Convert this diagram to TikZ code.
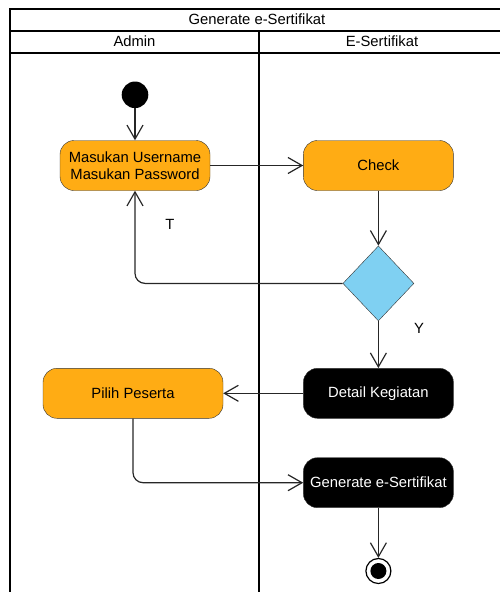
\documentclass[tikz,border=0pt]{standalone}
\usepackage{fontspec}
\setmainfont{Liberation Sans}
\usetikzlibrary{positioning,shapes.geometric,arrows.meta}

\definecolor{orangeact}{RGB}{255,172,20}
\definecolor{bluedec}{RGB}{127,208,242}

\begin{document}
\begin{tikzpicture}[
    x=1pt, y=-1pt,
    font=\fontsize{14.8}{17}\selectfont,
    action/.style={rectangle, rounded corners=14pt, draw=black!80, fill=orangeact, minimum width=150pt, minimum height=50pt, align=center}, % Aktivitas
    blackact/.style={action, fill=black, text=white}, % Aktivitas sistem
    decision/.style={diamond, draw=black!80, fill=bluedec, minimum width=71pt, minimum height=75pt, inner sep=0pt}, % Keputusan
    startdot/.style={circle, fill=black, minimum size=26.6pt, inner sep=0pt},
    enddot/.style={circle, draw=black, line width=1.2pt, fill=white, minimum size=25pt, inner sep=0pt,
        path picture={\fill[black] (path picture bounding box.center) circle (8pt);}},
    arrow/.style={-{Straight Barb[length=14pt,width=16pt]}, draw=black!85, line width=1.2pt}, % Panah
    lane/.style={line width=2pt} % Garis swimlane
    ]

    \useasboundingbox (0,0) rectangle (499,592);

    % Swimlane
    \draw[lane] (10,592) -- (10,8.5) -- (510,8.5);
    \draw[lane] (10,30.5) -- (510,30.5);
    \draw[lane] (10,52.5) -- (510,52.5);
    \draw[lane] (259,30.5) -- (259,592);
    \node (title) at (257,19.5) {Generate e-Sertifikat};
    \node (admin) at (134.5,41.5) {Admin};
    \node (esert) at (382,41.5) {E-Sertifikat};

    % Admin
    \node[action] (masuk) at (135,165.5) {Masukan Username\\Masukan Password};
    \node[startdot, above=32pt of masuk] (start) {};

    % E-Sertifikat
    \node[action, right=93pt of masuk] (check) {Check};
    \node[decision, below=55pt of check] (dec) {};
    \node[blackact, below=47pt of dec] (detail) {Detail Kegiatan};
    \node[action, minimum width=180pt, left=80pt of detail] (pilih) {Pilih Peserta};
    \node[blackact, below=39pt of detail] (gen) {Generate e-Sertifikat};
    \node[enddot, below=50pt of gen] (end) {};

    % Label keputusan
    \node (lblT) at (170,224) {T};
    \node (lblY) at (419,328) {Y};

    % Alur
    \draw[arrow] (start) -- (masuk);
    \draw[arrow] (masuk) -- (check);
    \draw[arrow] (check) -- (dec);
    \draw[arrow, rounded corners=10pt] (dec.west) -| (masuk.south);
    \draw[arrow] (dec) -- (detail);
    \draw[arrow] (detail) -- (pilih);
    \draw[arrow, rounded corners=10pt] (pilih.south) |- (gen.west);
    \draw[arrow] (gen) -- (end);

\end{tikzpicture}
\end{document}
